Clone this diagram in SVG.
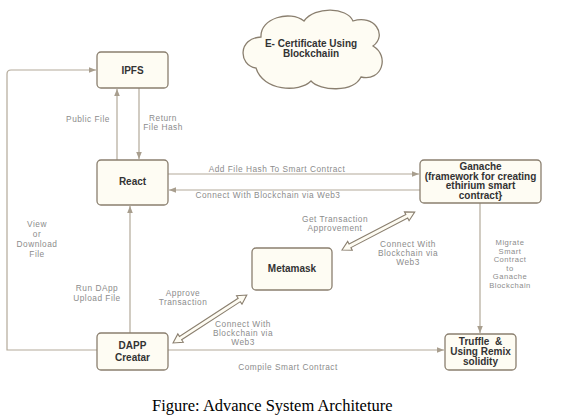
<svg xmlns="http://www.w3.org/2000/svg" width="561" height="418" viewBox="0 0 561 418">
<defs>
<style>
.box{fill:#fefcf3;stroke:#8a7f6f;stroke-width:1.3}
.nt{font-family:"Liberation Sans",Arial,sans-serif;font-weight:bold;font-size:10px;fill:#333;text-anchor:middle}
.lb{font-family:"Liberation Sans",Arial,sans-serif;font-size:8.3px;fill:#8c8c8c;text-anchor:middle;letter-spacing:0.5px}
.sm{font-size:7.6px}
.ln{fill:none;stroke:#b3a999;stroke-width:1.2}
.dbl{fill:#fefcf3;stroke:#8a7f6f;stroke-width:1.1}
</style>
<marker id="ah" viewBox="0 0 10 10" refX="10" refY="5" markerWidth="7" markerHeight="7" markerUnits="userSpaceOnUse" orient="auto">
<path d="M0,1 L10,5 L0,9 Z" fill="#a89e8e"/>
</marker>
</defs>
<rect width="561" height="418" fill="#ffffff"/>

<g id="connectors">
<path class="ln" d="M117,160 V89" marker-end="url(#ah)"/>
<path class="ln" d="M139,88 V159" marker-end="url(#ah)"/>
<path class="ln" d="M97,350 H7 V74 Q7,70 11,70 H96" marker-end="url(#ah)"/>
<path class="ln" d="M168,174 H419" marker-end="url(#ah)"/>
<path class="ln" d="M420,190 H169" marker-end="url(#ah)"/>
<path class="ln" d="M130,333 V206" marker-end="url(#ah)"/>
<path class="ln" d="M480,203 V333" marker-end="url(#ah)"/>
<path class="ln" d="M168,350 H444" marker-end="url(#ah)"/>
<polygon class="dbl" transform="translate(342,250) rotate(-27.5)" points="0,0 9,-5 9,-2 73,-2 73,-5 82,0 73,5 73,2 9,2 9,5"/>
<polygon class="dbl" transform="translate(173,343) rotate(-33)" points="0,0 9,-5 9,-2 79,-2 79,-5 88,0 79,5 79,2 9,2 9,5"/>
<text class="lb" x="88" y="122">Public File</text>
<text class="lb" x="163" y="121">Return</text>
<text class="lb" x="163" y="130">File Hash</text>
<text class="lb" x="277" y="172">Add File Hash To Smart Contract</text>
<text class="lb" x="268" y="198">Connect With Blockchain via Web3</text>
<text class="lb" x="335" y="222">Get Transaction</text>
<text class="lb" x="335" y="231">Approvement</text>
<text class="lb" x="408" y="247">Connect With</text>
<text class="lb" x="408" y="256">Blockchain via</text>
<text class="lb" x="408" y="265">Web3</text>
<text class="lb sm" x="510" y="245">Migrate</text>
<text class="lb sm" x="510" y="253.6">Smart</text>
<text class="lb sm" x="510" y="262.2">Contract</text>
<text class="lb sm" x="510" y="270.8">to</text>
<text class="lb sm" x="510" y="279.4">Ganache</text>
<text class="lb sm" x="510" y="288">Blockchain</text>
<text class="lb" x="37" y="227">View</text>
<text class="lb" x="37" y="237">or</text>
<text class="lb" x="37" y="247">Download</text>
<text class="lb" x="37" y="257">File</text>
<text class="lb" x="97" y="291">Run DApp</text>
<text class="lb" x="97" y="301">Upload File</text>
<text class="lb" x="183" y="296">Approve</text>
<text class="lb" x="183" y="305">Transaction</text>
<text class="lb" x="243" y="327">Connect With</text>
<text class="lb" x="243" y="336">Blockchain via</text>
<text class="lb" x="243" y="345">Web3</text>
<text class="lb" x="288" y="370">Compile Smart Contract</text>
</g>

<g id="cloud">
<path class="box" d="M256,68 C238,65 238,38 261,37 C260,18 290,10 304,21 C315,6 347,7 353,21 C374,14 388,35 373,46 C390,56 382,82 361,77 C353,93 320,91 311,81 C299,93 263,91 256,68 Z"/>
<text class="nt" x="311" y="47">E- Certificate Using</text>
<text class="nt" x="311" y="57">Blockchaiin</text>
</g>

<g id="ipfs">
<rect class="box" x="97" y="52" width="71" height="36" rx="4"/>
<text class="nt" x="132.5" y="74">IPFS</text>
</g>

<g id="react">
<rect class="box" x="97" y="160" width="71" height="45" rx="4"/>
<text class="nt" x="132.5" y="185">React</text>
</g>

<g id="ganache">
<rect class="box" x="420" y="160" width="121" height="43" rx="4"/>
<text class="nt" x="480.5" y="170">Ganache</text>
<text class="nt" x="480.5" y="179.5">(framework for creating</text>
<text class="nt" x="480.5" y="189">ethirium smart</text>
<text class="nt" x="480.5" y="198.5">contract}</text>
</g>

<g id="metamask">
<rect class="box" x="252" y="248" width="80" height="42" rx="4"/>
<text class="nt" x="292" y="272">Metamask</text>
</g>

<g id="dapp">
<rect class="box" x="97" y="333" width="71" height="37" rx="4"/>
<text class="nt" x="132.5" y="349">DAPP</text>
<text class="nt" x="132.5" y="361">Creatar</text>
</g>

<g id="truffle">
<rect class="box" x="445" y="334" width="71" height="36" rx="4"/>
<text class="nt" x="480.5" y="345">Truffle &#160;&amp;</text>
<text class="nt" x="480.5" y="355">Using Remix</text>
<text class="nt" x="480.5" y="365">solidity</text>
</g>

<text x="152" y="411" font-family="'Liberation Serif','Times New Roman',serif" font-size="16.5" fill="#000">Figure: Advance System Architeture</text>
</svg>
